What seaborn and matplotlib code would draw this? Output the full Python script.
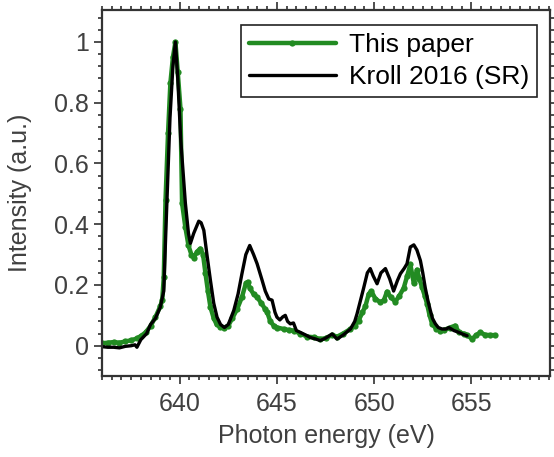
import numpy as np
import pandas as pd
import matplotlib
matplotlib.use("Agg")
import matplotlib.pyplot as plt
from matplotlib.ticker import MultipleLocator
import seaborn as sns

# ---- data ----
paper_x = [636.0, 636.3, 636.6, 636.9, 637.2, 637.5, 637.8, 638.0, 638.25, 638.5,
           638.75, 639.0, 639.1, 639.18, 639.27, 639.4, 639.52, 639.65, 639.78, 639.9,
           640.04, 640.12, 640.29, 640.45, 640.6, 640.72, 640.9, 641.06, 641.2, 641.32,
           641.45, 641.58, 641.75, 641.9, 642.09, 642.3, 642.5, 642.7, 642.95, 643.2,
           643.4, 643.5, 643.6, 643.8, 643.98, 644.2, 644.4, 644.5, 644.66, 644.85,
           645.0, 645.35, 645.6, 645.86, 646.2, 646.55, 646.9, 647.23, 647.5, 647.84,
           648.1, 648.4, 648.78, 649.0, 649.2, 649.4, 649.55, 649.72, 649.85, 650.06,
           650.32, 650.5, 650.66, 650.85, 651.09, 651.3, 651.52, 651.7, 651.86, 652.04,
           652.2, 652.33, 652.46, 652.6, 652.72, 652.85, 652.98, 653.2, 653.4, 653.6,
           653.9, 654.17, 654.35, 654.6, 654.8, 655.03, 655.25, 655.46, 655.7, 655.97,
           656.2]
paper_y = [0.008, 0.010, 0.012, 0.010, 0.014, 0.018, 0.024, 0.032, 0.044, 0.065,
           0.094, 0.130, 0.150, 0.226, 0.480, 0.700, 0.865, 0.950, 1.000, 0.900,
           0.780, 0.470, 0.390, 0.330, 0.300, 0.290, 0.310, 0.320, 0.300, 0.240,
           0.180, 0.127, 0.090, 0.070, 0.062, 0.060, 0.066, 0.090, 0.120, 0.160,
           0.205, 0.210, 0.190, 0.170, 0.160, 0.140, 0.120, 0.110, 0.080, 0.065,
           0.060, 0.055, 0.052, 0.050, 0.040, 0.030, 0.028, 0.022, 0.025, 0.035,
           0.030, 0.040, 0.055, 0.065, 0.083, 0.110, 0.130, 0.170, 0.180, 0.155,
           0.143, 0.150, 0.178, 0.160, 0.145, 0.165, 0.190, 0.230, 0.268, 0.205,
           0.250, 0.220, 0.193, 0.165, 0.138, 0.100, 0.072, 0.055, 0.050, 0.052,
           0.060, 0.066, 0.045, 0.040, 0.035, 0.022, 0.035, 0.044, 0.036, 0.035,
           0.035]

kroll_x = [636.0, 636.3, 636.6, 636.9, 637.2, 637.5, 637.7, 637.8, 638.0, 638.3,
           638.5, 638.75, 639.0, 639.18, 639.3, 639.5, 639.65, 639.78, 639.9, 640.05,
           640.29, 640.45, 640.55, 640.72, 640.98, 641.1, 641.24, 641.4, 641.58, 641.75,
           641.92, 642.1, 642.3, 642.5, 642.78, 643.0, 643.2, 643.4, 643.6, 643.8,
           643.98, 644.24, 644.4, 644.58, 644.75, 644.9, 645.0, 645.15, 645.3, 645.43,
           645.55, 645.69, 645.85, 646.0, 646.2, 646.55, 646.72, 647.0, 647.23, 647.5,
           647.7, 647.84, 648.09, 648.4, 648.78, 649.0, 649.12, 649.3, 649.46, 649.65,
           649.8, 649.95, 650.15, 650.35, 650.58, 650.8, 651.0, 651.2, 651.35, 651.55,
           651.69, 651.86, 652.04, 652.2, 652.38, 652.5, 652.63, 652.76, 652.89, 653.0,
           653.15, 653.3, 653.49, 653.7, 653.84, 654.1, 654.35, 654.6, 654.78]
kroll_y = [-0.003, -0.005, -0.005, -0.007, -0.002, 0.000, 0.003, -0.005, 0.020, 0.040,
           0.070, 0.090, 0.127, 0.180, 0.400, 0.750, 0.920, 1.000, 0.880, 0.680,
           0.470, 0.370, 0.337, 0.370, 0.410, 0.405, 0.380, 0.300, 0.215, 0.140,
           0.094, 0.070, 0.060, 0.070, 0.116, 0.170, 0.237, 0.300, 0.330, 0.300,
           0.270, 0.215, 0.180, 0.154, 0.150, 0.110, 0.094, 0.085, 0.095, 0.100,
           0.080, 0.072, 0.075, 0.050, 0.044, 0.033, 0.027, 0.022, 0.017, 0.025,
           0.033, 0.039, 0.022, 0.035, 0.055, 0.080, 0.105, 0.150, 0.190, 0.240,
           0.254, 0.230, 0.204, 0.240, 0.254, 0.220, 0.180, 0.215, 0.237, 0.255,
           0.270, 0.325, 0.332, 0.315, 0.280, 0.240, 0.190, 0.150, 0.116, 0.090,
           0.072, 0.060, 0.055, 0.055, 0.060, 0.050, 0.044, 0.037, 0.033]

x_ticks = [640, 645, 650, 655]
y_ticks = [0, 0.2, 0.4, 0.6, 0.8, 1]
y_tick_labels = ["0", "0.2", "0.4", "0.6", "0.8", "1"]
series_names = ["This paper", "Kroll 2016 (SR)"]

# ---- style ----
sns.set_theme(style="ticks")
plt.rcParams['font.family'] = ['Liberation Sans', 'DejaVu Sans']
text_col = "#404040"
plt.rcParams.update({
    "text.color": text_col,
    "axes.labelcolor": text_col,
    "xtick.color": text_col,
    "ytick.color": text_col,
    "axes.edgecolor": "#333333",
})

fig = plt.figure(figsize=(5.54, 4.57), dpi=100)
ax = fig.add_axes([0.184, 0.177, 0.809, 0.801])

df_paper = pd.DataFrame({"x": paper_x, "y": paper_y})
df_kroll = pd.DataFrame({"x": kroll_x, "y": kroll_y})

sns.lineplot(data=df_paper, x="x", y="y", ax=ax, color="#228B22", lw=3.2,
             marker="o", markersize=4.5, markeredgewidth=0, label=series_names[0],
             sort=False, estimator=None)
sns.lineplot(data=df_kroll, x="x", y="y", ax=ax, color="black", lw=2.4,
             label=series_names[1], sort=False, estimator=None)

ax.set_xlim(636.0, 659.05)
ax.set_ylim(-0.1, 1.105)
ax.set_xticks(x_ticks)
ax.set_yticks(y_ticks)
ax.set_yticklabels(y_tick_labels)
ax.xaxis.set_minor_locator(MultipleLocator(0.5))
ax.yaxis.set_minor_locator(MultipleLocator(0.04))

ax.tick_params(which="both", direction="out", top=True, right=True,
               labeltop=False, labelright=False, width=1.3, labelsize=18)
ax.tick_params(which="major", length=5.5)
ax.tick_params(axis="x", which="major", pad=6)
ax.tick_params(axis="y", which="major", pad=4)
ax.tick_params(which="minor", length=3)
for s in ax.spines.values():
    s.set_linewidth(1.6)
    s.set_visible(True)

ax.set_xlabel("Photon energy (eV)", fontsize=18, labelpad=6)
ax.set_ylabel("Intensity (a.u.)", fontsize=18, labelpad=16)

leg = ax.legend(loc="upper right", bbox_to_anchor=(0.971, 0.959),
                fontsize=19, frameon=True, fancybox=False,
                edgecolor="#222222", framealpha=1, handlelength=3.3,
                borderaxespad=0.0, borderpad=0.3, labelspacing=0.3,
                handletextpad=0.5)
leg.get_frame().set_linewidth(1.2)
for t in leg.get_texts():
    t.set_color("black")

fig.savefig("out.png", dpi=100)
